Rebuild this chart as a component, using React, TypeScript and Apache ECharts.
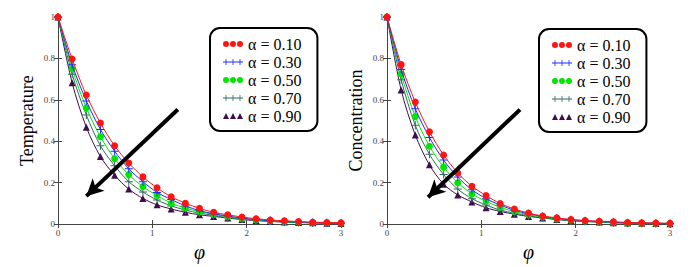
import React, { useEffect, useRef } from "react";
import * as echarts from "echarts";

// φ sample positions (markers every 0.15)
const phi = [0, 0.15, 0.3, 0.45, 0.6, 0.75, 0.9, 1.05, 1.2, 1.35, 1.5, 1.65, 1.8, 1.95, 2.1, 2.25, 2.4, 2.55, 2.7, 2.85, 3.0];

const alphaLabels = ["0.10", "0.30", "0.50", "0.70", "0.90"];

// Temperature profiles
const tempA10 = [1, 0.797, 0.623, 0.488, 0.378, 0.295, 0.228, 0.175, 0.132, 0.101, 0.076, 0.057, 0.045, 0.034, 0.026, 0.020, 0.016, 0.012, 0.009, 0.008, 0.006];
const tempA30 = [1, 0.769, 0.595, 0.457, 0.352, 0.267, 0.205, 0.153, 0.119, 0.088, 0.065, 0.050, 0.039, 0.029, 0.022, 0.017, 0.013, 0.010, 0.008, 0.006, 0.005];
const tempA50 = [1, 0.750, 0.561, 0.422, 0.316, 0.239, 0.181, 0.138, 0.101, 0.078, 0.060, 0.047, 0.036, 0.026, 0.020, 0.015, 0.011, 0.009, 0.007, 0.005, 0.004];
const tempA70 = [1, 0.724, 0.527, 0.378, 0.282, 0.205, 0.155, 0.116, 0.088, 0.068, 0.053, 0.042, 0.031, 0.025, 0.019, 0.014, 0.010, 0.008, 0.006, 0.005, 0.004];
const tempA90 = [1, 0.682, 0.468, 0.326, 0.236, 0.169, 0.124, 0.093, 0.073, 0.057, 0.045, 0.037, 0.029, 0.022, 0.017, 0.013, 0.010, 0.008, 0.006, 0.004, 0.003];

// Concentration profiles
const concA10 = [1, 0.770, 0.589, 0.446, 0.334, 0.247, 0.183, 0.138, 0.099, 0.073, 0.053, 0.039, 0.030, 0.022, 0.017, 0.014, 0.011, 0.008, 0.006, 0.005, 0.004];
const concA30 = [1, 0.747, 0.557, 0.418, 0.309, 0.227, 0.166, 0.123, 0.092, 0.067, 0.050, 0.037, 0.028, 0.021, 0.016, 0.012, 0.009, 0.007, 0.005, 0.004, 0.003];
const concA50 = [1, 0.725, 0.519, 0.376, 0.275, 0.200, 0.146, 0.110, 0.081, 0.061, 0.045, 0.034, 0.025, 0.019, 0.014, 0.011, 0.008, 0.006, 0.004, 0.003, 0.003];
const concA70 = [1, 0.697, 0.477, 0.337, 0.239, 0.169, 0.123, 0.092, 0.068, 0.053, 0.040, 0.031, 0.023, 0.017, 0.013, 0.010, 0.007, 0.005, 0.004, 0.003, 0.002];
const concA90 = [1, 0.648, 0.430, 0.286, 0.193, 0.141, 0.107, 0.079, 0.061, 0.048, 0.037, 0.030, 0.022, 0.017, 0.013, 0.010, 0.007, 0.005, 0.004, 0.003, 0.002];

// Arrow endpoints in data coordinates [φ, value]
const tempArrow = [[1.27, 0.553], [0.3, 0.135]];
const concArrow = [[1.41, 0.553], [0.435, 0.13]];

const colors = ["#ff1414", "#1a2cff", "#00e600", "#2f6b60", "#3e0d4c"];
const PLUS = "path://M0,3.5h8v1h-8z M3.5,0h1v8h-1z";
const symbols = ["circle", PLUS, "circle", PLUS, "triangle"];
const symbolSizes = [7, 8, 7, 8, 7];

const ICON_DOTS = "path://M0,3a3,3 0 1,0 6,0a3,3 0 1,0 -6,0z M7,3a3,3 0 1,0 6,0a3,3 0 1,0 -6,0z M14,3a3,3 0 1,0 6,0a3,3 0 1,0 -6,0z";
const ICON_PLUS = "path://M0,2.6h20v0.8h-20z M2.6,0h0.8v6h-0.8z M9.6,0h0.8v6h-0.8z M16.6,0h0.8v6h-0.8z";
const ICON_TRI = "path://M0,6L3,0L6,6z M7,6L10,0L13,6z M14,6L17,0L20,6z";
const legendIcons = [ICON_DOTS, ICON_PLUS, ICON_DOTS, ICON_PLUS, ICON_TRI];

const SERIF = "Liberation Serif";

export default function App() {
  const ref = useRef<HTMLDivElement>(null);

  useEffect(() => {
    if (!ref.current) return;
    const chart = echarts.init(ref.current, undefined, { renderer: "svg" });

    const names = alphaLabels.map((a) => `α = ${a}`);
    const tempSets = [tempA10, tempA30, tempA50, tempA70, tempA90];
    const concSets = [concA10, concA30, concA50, concA70, concA90];

    const axisLine = { show: true, lineStyle: { color: "#444", width: 1 } };
    const tick = { show: true, inside: true, length: 4, lineStyle: { color: "#444" } };
    const label = { color: "#444", fontSize: 9, fontFamily: SERIF };

    const makeX = (gridIndex: number) => [
      {
        type: "value", gridIndex, min: 0, max: 3, interval: 1, position: "bottom",
        axisLine, axisTick: tick, axisLabel: { ...label, margin: 4 }, splitLine: { show: false },
        name: "φ", nameLocation: "middle", nameGap: 1,
        nameTextStyle: { fontSize: 20, fontStyle: "italic", fontFamily: SERIF, color: "#000" },
      },
      {
        type: "value", gridIndex, min: 0, max: 3, interval: 1, position: "top",
        axisLine, axisTick: tick, axisLabel: { show: false }, splitLine: { show: false },
      },
    ];
    const makeY = (gridIndex: number, name: string) => [
      {
        type: "value", gridIndex, min: 0, max: 1, interval: 0.2, position: "left",
        axisLine, axisTick: tick, axisLabel: { ...label, margin: 3 }, splitLine: { show: false },
        name, nameLocation: "middle", nameGap: 22,
        nameTextStyle: { fontSize: 18, fontFamily: SERIF, color: "#000" },
      },
      {
        type: "value", gridIndex, min: 0, max: 1, interval: 0.2, position: "right",
        axisLine, axisTick: tick, axisLabel: { show: false }, splitLine: { show: false },
      },
    ];

    const makeSeries = (sets: number[][], xi: number, yi: number, arrow: number[][]) =>
      sets.map((vals, k) => ({
        type: "line",
        name: names[k],
        xAxisIndex: xi,
        yAxisIndex: yi,
        data: phi.map((x, i) => [x, vals[i]]),
        smooth: 0.3,
        symbol: symbols[k],
        symbolSize: symbolSizes[k],
        showAllSymbol: true,
        lineStyle: { color: colors[k], width: 1 },
        itemStyle: { color: colors[k] },
        z: 2 + (5 - k),
        markLine:
          k === 0
            ? {
                silent: true,
                symbol: ["none", "arrow"],
                symbolSize: [13, 17],
                label: { show: false },
                lineStyle: { color: "#000", width: 4, type: "solid" },
                emphasis: { disabled: true },
                data: [[{ coord: arrow[0] }, { coord: arrow[1] }]],
                z: 10,
              }
            : undefined,
      }));

    const makeLegend = (left: number, top: number) => ({
      orient: "vertical",
      left,
      top,
      padding: [7, 16, 6, 13],
      itemGap: 0,
      itemWidth: 20,
      itemHeight: 7,
      itemTextGap: 8,
      borderColor: "#000",
      borderWidth: 2,
      borderRadius: 10,
      backgroundColor: "#fff",
      selectedMode: false,
      data: names.map((n, k) => ({ name: n, icon: legendIcons[k] })),
      textStyle: {
        fontFamily: SERIF,
        fontSize: 16,
        lineHeight: 18,
        color: "#000",
      },
    });

    chart.setOption({
      animation: false,
      backgroundColor: "#fff",
      textStyle: { fontFamily: SERIF },
      grid: [
        { left: 58, top: 17, width: 283, height: 215 },
        { left: 387, top: 17, width: 283, height: 215 },
      ],
      xAxis: [...makeX(0), ...makeX(1)],
      yAxis: [...makeY(0, "Temperature"), ...makeY(1, "Concentration")],
      legend: [makeLegend(210, 28), makeLegend(539, 29)],
      series: [
        ...makeSeries(tempSets, 0, 0, tempArrow),
        ...makeSeries(concSets, 2, 2, concArrow),
      ],
    });

    return () => chart.dispose();
  }, []);

  return (
    <div
      ref={ref}
      style={{ position: "fixed", left: 0, top: 0, width: 698, height: 267, background: "#fff" }}
    />
  );
}
